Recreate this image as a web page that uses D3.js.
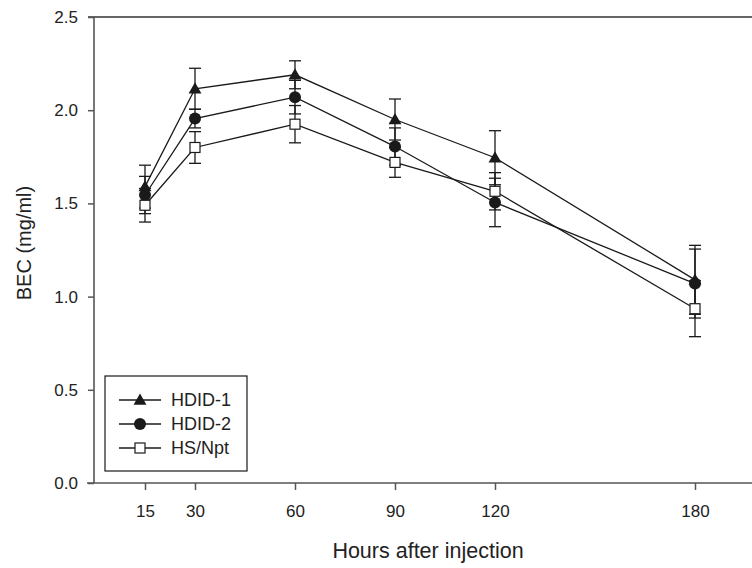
<!DOCTYPE html>
<html>
<head>
<meta charset="utf-8">
<script src="https://cdn.jsdelivr.net/npm/d3@7"></script>
<style>
  body { margin: 0; background: #fff; }
  svg { display: block; font-family: "Liberation Sans", Arial, sans-serif; }
</style>
</head>
<body>
<div id="chart"></div>
<script>
// Daten
const hours = [15, 30, 60, 90, 120, 180];
const hdid1 = [1.59, 2.115, 2.19, 1.95, 1.745, 1.09];
const hdid1Err = [0.115, 0.11, 0.075, 0.11, 0.145, 0.185];
const hdid2 = [1.545, 1.955, 2.07, 1.805, 1.505, 1.07];
const hdid2Err = [0.10, 0.05, 0.09, 0.10, 0.13, 0.185];
const hsnpt = [1.49, 1.80, 1.925, 1.72, 1.565, 0.935];
const hsnptErr = [0.09, 0.085, 0.10, 0.08, 0.10, 0.15];
const yTicks = [0, 0.5, 1.0, 1.5, 2.0, 2.5];

const series = [
  { name: "HDID-1", values: hdid1, err: hdid1Err, marker: "triangle" },
  { name: "HDID-2", values: hdid2, err: hdid2Err, marker: "circle" },
  { name: "HS/Npt", values: hsnpt, err: hsnptErr, marker: "square" }
];

const breite = 752, hoehe = 568;
const ink = "#1a1a1a", axisCol = "#555";

const svg = d3.select("#chart").append("svg")
  .attr("width", breite)
  .attr("height", hoehe);

const xScale = d3.scaleLinear().domain([0, 180]).range([95, 695]);
const yScale = d3.scaleLinear().domain([0, 2.5]).range([483, 17]);

// Rahmen
const frame = svg.append("g").attr("stroke", axisCol).attr("stroke-width", 1.6);
frame.append("line").attr("x1", 88).attr("x2", 760).attr("y1", yScale(2.5)).attr("y2", yScale(2.5)).attr("stroke", "#333");
frame.append("line").attr("x1", 87).attr("x2", 760).attr("y1", yScale(0)).attr("y2", yScale(0));
frame.append("line").attr("x1", 94).attr("x2", 94).attr("y1", yScale(2.5)).attr("y2", yScale(0));

// Achsen
const yAxisG = svg.append("g").attr("transform", "translate(94,0)")
  .call(d3.axisLeft(yScale).tickValues(yTicks).tickFormat(d3.format(".1f")).tickSize(6).tickPadding(10));
const xAxisG = svg.append("g").attr("transform", `translate(0,${yScale(0)})`)
  .call(d3.axisBottom(xScale).tickValues(hours).tickSize(7).tickPadding(15));

[yAxisG, xAxisG].forEach(g => {
  g.select(".domain").remove();
  g.selectAll("line").attr("stroke", axisCol).attr("stroke-width", 1.5);
  g.selectAll("text").attr("fill", "#222").style("font-size", "17px");
});

svg.append("text")
  .attr("x", 428).attr("y", 558)
  .attr("text-anchor", "middle")
  .attr("fill", "#222")
  .style("font-size", "21.5px")
  .text("Hours after injection");

svg.append("text")
  .attr("transform", "translate(31,243) rotate(-90)")
  .attr("text-anchor", "middle")
  .attr("fill", "#222")
  .style("font-size", "20px")
  .text("BEC (mg/ml)");

// Marker
function drawMarker(g, type, cx, cy) {
  if (type === "triangle") {
    g.append("path")
      .attr("d", d3.symbol().type(d3.symbolTriangle).size(72)())
      .attr("transform", `translate(${cx},${cy + 1})`)
      .attr("fill", ink);
  } else if (type === "circle") {
    g.append("circle").attr("cx", cx).attr("cy", cy).attr("r", 6).attr("fill", ink);
  } else {
    g.append("rect").attr("x", cx - 5).attr("y", cy - 5).attr("width", 10).attr("height", 10)
      .attr("fill", "#fff").attr("stroke", ink).attr("stroke-width", 1.2);
  }
}

const line = d3.line().x(d => xScale(d[0])).y(d => yScale(d[1]));
const plot = svg.append("g");

series.forEach(s => {
  plot.append("path")
    .datum(hours.map((h, i) => [h, s.values[i]]))
    .attr("d", line)
    .attr("fill", "none")
    .attr("stroke", ink)
    .attr("stroke-width", 1.3);
});

series.forEach(s => {
  const eg = plot.append("g").attr("stroke", ink).attr("stroke-width", 1.3);
  hours.forEach((h, i) => {
    const x = xScale(h);
    const lo = yScale(s.values[i] - s.err[i]);
    const hi = yScale(s.values[i] + s.err[i]);
    eg.append("line").attr("x1", x).attr("x2", x).attr("y1", lo).attr("y2", hi);
    eg.append("line").attr("x1", x - 6).attr("x2", x + 6).attr("y1", lo).attr("y2", lo);
    eg.append("line").attr("x1", x - 6).attr("x2", x + 6).attr("y1", hi).attr("y2", hi);
  });
});

series.forEach(s => {
  const mg = plot.append("g");
  hours.forEach((h, i) => drawMarker(mg, s.marker, xScale(h), yScale(s.values[i])));
});

// Legende
const legend = svg.append("g");
legend.append("rect")
  .attr("x", 105).attr("y", 376).attr("width", 142).attr("height", 95)
  .attr("fill", "#fff").attr("stroke", ink).attr("stroke-width", 1.2);

const rowY = d3.scalePoint().domain(series.map(s => s.name)).range([400, 448]);
series.forEach(s => {
  const y = rowY(s.name);
  legend.append("line").attr("x1", 119).attr("x2", 161).attr("y1", y).attr("y2", y)
    .attr("stroke", ink).attr("stroke-width", 1.3);
  drawMarker(legend, s.marker, 140, y);
  legend.append("text")
    .attr("x", 171).attr("y", y + 6)
    .attr("fill", "#222")
    .style("font-size", "18px")
    .text(s.name);
});
</script>
</body>
</html>
